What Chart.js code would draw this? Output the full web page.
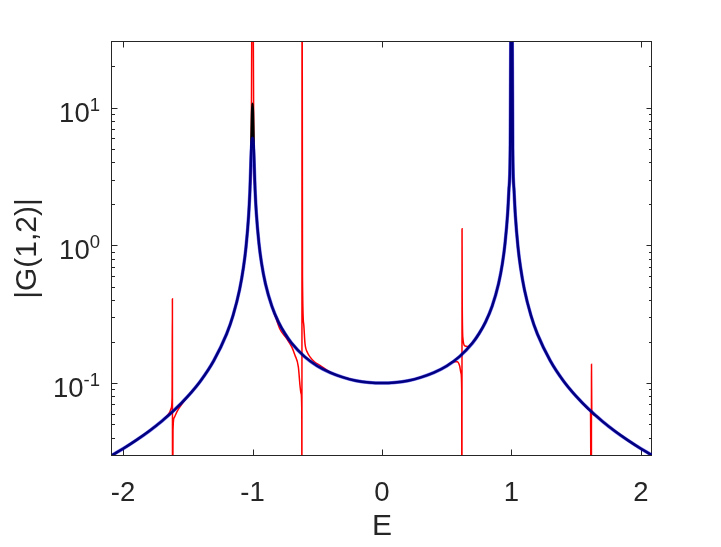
<!DOCTYPE html>
<html>
<head>
<meta charset="utf-8">
<script src="https://cdn.jsdelivr.net/npm/chart.js@4.4.1/dist/chart.umd.min.js"></script>
<style>
body{margin:0;background:#fff}
canvas{display:block}
</style>
</head>
<body>
<canvas id="plot" width="721" height="547"></canvas>
<script>
// energies shared by the black and blue curves
var eBase = [-2.085,-2.0,-1.9,-1.8,-1.7,-1.6,-1.5,-1.4,-1.3,-1.2,-1.15,-1.1,-1.07,-1.05,-1.03,-1.02,-1.01,-1.0,-0.99,-0.98,-0.97,-0.95,-0.93,-0.9,-0.85,-0.8,-0.75,-0.7,-0.6,-0.5,-0.4,-0.3,-0.2,-0.1,0,
  0.1,0.2,0.3,0.4,0.5,0.6,0.7,0.75,0.8,0.85,0.9,0.93,0.95,0.97,0.98,0.99,1.0,1.01,1.02,1.03,1.05,1.07,1.1,1.15,1.2,1.3,1.4,1.5,1.6,1.7,1.8,1.9,2.0,2.085]
var blackVals = [0.0299,0.0333,0.0383,0.0446,0.0529,0.0641,0.0800,0.104,0.145,0.227,0.310,0.476,0.690,0.976,1.64,2.48,4.98,10.7,5.03,2.53,1.69,1.03,0.740,0.526,0.360,0.278,0.229,0.196,0.156,0.133,0.119,0.110,0.104,0.101,0.100,
  0.101,0.104,0.110,0.119,0.133,0.156,0.196,0.229,0.278,0.360,0.526,0.740,1.03,1.69,2.53,5.03,400,4.98,2.48,1.64,0.976,0.690,0.476,0.310,0.227,0.145,0.104,0.0800,0.0641,0.0529,0.0446,0.0383,0.0333,0.0299]
var blueVals = [0.0299,0.0333,0.0383,0.0446,0.0529,0.0641,0.0800,0.104,0.145,0.227,0.310,0.476,0.690,0.976,1.64,2.48,4.6,6.0,4.6,2.53,1.69,1.03,0.740,0.526,0.360,0.278,0.229,0.196,0.156,0.133,0.119,0.110,0.104,0.101,0.100,
  0.101,0.104,0.110,0.119,0.133,0.156,0.196,0.229,0.278,0.360,0.526,0.740,1.03,1.69,2.53,5.03,300,4.98,2.48,1.64,0.976,0.690,0.476,0.310,0.227,0.145,0.104,0.0800,0.0641,0.0529,0.0446,0.0383,0.0333,0.0299]

// red curve, denser around the spikes
var eRed = [-2.085,-2.0,-1.9,-1.8,-1.75,-1.7,-1.66,-1.64,-1.628,-1.621,-1.6185,-1.6175,-1.614,-1.605,-1.585,-1.56,-1.53,-1.5,-1.4,-1.3,-1.2,-1.15,-1.1,-1.07,-1.05,-1.03,-1.02,-1.01,-1.0,-0.99,-0.98,-0.97,-0.95,-0.93,-0.9,
  -0.85,-0.82,-0.79,-0.736,-0.697,-0.672,-0.646,-0.633,-0.625,-0.6195,-0.6185,-0.6175,-0.614,-0.605,-0.595,-0.575,-0.556,-0.52,-0.479,-0.42,-0.35,-0.3,-0.2,-0.1,0,
  0.1,0.2,0.3,0.4,0.45,0.5,0.55,0.58,0.6,0.61,0.6155,0.6172,0.6182,0.6195,0.625,0.64,0.66,0.7,0.75,0.8,0.85,0.9,0.93,0.95,0.97,0.98,0.99,1.0,1.01,1.02,1.03,1.05,1.07,1.1,1.15,1.2,1.3,1.4,1.5,1.55,1.6,1.61,1.6165,1.6178,1.62,1.65,1.7,1.8,1.9,2.0,2.085]
var redVals = [0.0299,0.0333,0.0383,0.0446,0.0485,0.0530,0.0578,0.0612,0.0655,0.078,0.41,0.004,0.045,0.056,0.0615,0.0672,0.0738,0.0800,0.104,0.145,0.227,0.310,0.476,0.690,0.976,1.64,2.48,4.98,500,5.03,2.53,1.69,1.03,0.740,0.526,
  0.358,0.298,0.248,0.210,0.183,0.159,0.131,0.0956,0.084,0.063,0.003,500,0.60,0.27,0.195,0.166,0.155,0.142,0.1345,0.123,0.114,0.110,0.104,0.101,0.100,
  0.101,0.104,0.110,0.119,0.125,0.133,0.143,0.143,0.133,0.118,0.090,0.003,1.32,0.40,0.21,0.186,0.184,0.197,0.229,0.278,0.360,0.526,0.740,1.03,1.69,2.53,5.03,500,4.98,2.48,1.64,0.976,0.690,0.476,0.310,0.227,0.145,0.104,0.0800,0.0713,0.0641,0.0626,0.003,0.137,0.0614,0.0581,0.0529,0.0446,0.0383,0.0333,0.0299]

var xTicks = [-2,-1,0,1,2]
var yTicks = [0.1,1,10]
var yTickExp = ['-1','0','1']
var yMinor = [0.04,0.05,0.06,0.07,0.08,0.09,0.2,0.3,0.4,0.5,0.6,0.7,0.8,0.9,2,3,4,5,6,7,8,9,20]

var fam = '"Liberation Sans", Arial, Helvetica, sans-serif'
var axisColor = '#262626'
Chart.defaults.font.family = fam
Chart.defaults.color = axisColor

function pts(xs, ys){
    return xs.map(function(x, i){ return {x: x, y: ys[i]} })
}

// MATLAB style box with inward ticks
var axesBox = {
    id: 'axesBox',
    beforeDatasetsDraw: function(chart){
        var ctx = chart.ctx, a = chart.chartArea
        var xs = chart.scales.x, ys = chart.scales.y
        ctx.save()
        ctx.strokeStyle = axisColor
        ctx.lineWidth = 1
        ctx.strokeRect(a.left - 0.5, a.top - 0.5, a.right - a.left, a.bottom - a.top + 1)
        ctx.beginPath()
        xTicks.forEach(function(v){
            var px = Math.round(xs.getPixelForValue(v)) + 0.5
            ctx.moveTo(px, a.bottom); ctx.lineTo(px, a.bottom - 5.5)
            ctx.moveTo(px, a.top); ctx.lineTo(px, a.top + 5.5)
        })
        yTicks.forEach(function(v){
            var py = Math.round(ys.getPixelForValue(v)) + 0.5
            ctx.moveTo(a.left, py); ctx.lineTo(a.left + 5.5, py)
            ctx.moveTo(a.right, py); ctx.lineTo(a.right - 5.5, py)
        })
        yMinor.forEach(function(v){
            var py = Math.round(ys.getPixelForValue(v)) + 0.5
            ctx.moveTo(a.left, py); ctx.lineTo(a.left + 3, py)
            ctx.moveTo(a.right, py); ctx.lineTo(a.right - 3, py)
        })
        ctx.stroke()
        ctx.restore()
    },
    afterDraw: function(chart){
        // 10^n labels with superscript exponent
        var ctx = chart.ctx, ys = chart.scales.y
        ctx.save()
        ctx.fillStyle = axisColor
        ctx.textBaseline = 'alphabetic'
        yTicks.forEach(function(v, i){
            var py = ys.getPixelForValue(v)
            ctx.font = '18.5px ' + fam
            var ew = ctx.measureText(yTickExp[i]).width
            ctx.textAlign = 'left'
            ctx.fillText(yTickExp[i], 100 - ew, py + 3)
            ctx.font = '27.5px ' + fam
            ctx.textAlign = 'right'
            ctx.fillText('10', 100 - ew, py + 14)
        })
        ctx.restore()
    }
}

var ctx = document.getElementById('plot').getContext('2d')
var myChart = new Chart(ctx, {
    type: 'line',
    data: {
        datasets: [{
            label: 'blue',
            data: pts(eBase, blueVals),
            borderColor: 'rgba(0,0,235,0.55)',
            borderWidth: 3.5,
            order: 1
        }, {
            label: 'black',
            data: pts(eBase, blackVals),
            borderColor: '#000000',
            borderWidth: 2.5,
            order: 2
        }, {
            label: 'red',
            data: pts(eRed, redVals),
            borderColor: '#ff0000',
            borderWidth: 1.5,
            order: 3
        }]
    },
    options: {
        responsive: false,
        devicePixelRatio: 1,
        animation: false,
        layout: {padding: {left: 0, top: 42, right: 69, bottom: 0}},
        elements: {
            point: {radius: 0, hoverRadius: 0},
            line: {cubicInterpolationMode: 'monotone', fill: false}
        },
        scales: {
            x: {
                type: 'linear',
                min: -2.085,
                max: 2.085,
                grid: {display: false, drawTicks: false},
                border: {display: false},
                afterBuildTicks: function(scale){
                    scale.ticks = xTicks.map(function(v){ return {value: v} })
                },
                afterFit: function(scale){ scale.height = 92 },
                ticks: {
                    padding: 22,
                    maxRotation: 0,
                    font: {size: 27.5},
                    color: axisColor,
                    callback: function(v){ return String(v) }
                },
                title: {
                    display: true,
                    text: 'E',
                    font: {size: 30},
                    color: axisColor,
                    padding: {top: 0, bottom: 2}
                }
            },
            y: {
                type: 'logarithmic',
                min: 0.03,
                max: 30,
                grid: {display: false, drawTicks: false},
                border: {display: false},
                afterBuildTicks: function(scale){
                    scale.ticks = yTicks.map(function(v){ return {value: v} })
                },
                afterFit: function(scale){ scale.width = 112 },
                ticks: {display: false},
                title: {
                    display: true,
                    text: '|G(1,2)|',
                    font: {size: 30},
                    color: axisColor,
                    padding: {top: 10, bottom: 0}
                }
            }
        },
        plugins: {
            legend: {display: false},
            tooltip: {enabled: false}
        }
    },
    plugins: [axesBox]
})
</script>
</body>
</html>
